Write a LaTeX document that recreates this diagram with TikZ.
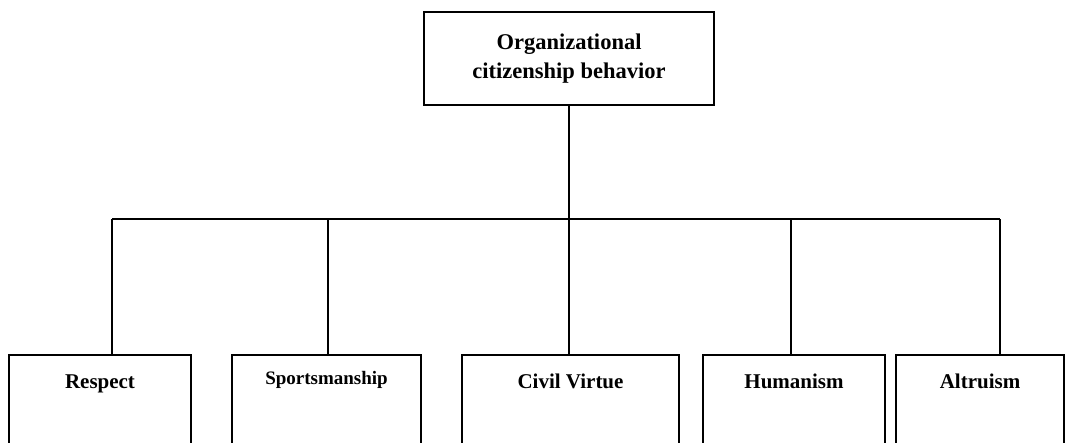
\documentclass[tikz,border=0pt]{standalone}
\usepackage{fontspec}
\setmainfont{Liberation Serif}
\begin{document}
\begin{tikzpicture}[x=1pt,y=-1pt,
  ln/.style={line width=1.7pt,black},
  topbox/.style={draw,ln,rectangle,minimum width=290pt,minimum height=93pt,inner sep=0pt,
    align=center,font=\fontsize{22.5}{29}\selectfont\bfseries},
  leaf/.style={draw,ln,rectangle,anchor=north,inner xsep=0pt,inner ysep=0pt,
    text height=34pt,text depth=70pt,font=\fontsize{21}{25}\selectfont\bfseries},
  leafsmall/.style={leaf,text height=30pt,text depth=74pt,font=\fontsize{19}{23}\selectfont\bfseries}]
\useasboundingbox (0,0) rectangle (1074,442);
\clip (0,0) rectangle (1074,442);
\fill[white] (0,0) rectangle (1074,442);
\node[topbox] (top) at (569,58.5) {Organizational\\citizenship behavior};
\node[leaf,minimum width=182pt] (r) at (100,354) {Respect};
\node[leafsmall,minimum width=189pt] (s) at (326.5,354) {Sportsmanship};
\node[leaf,minimum width=217pt] (c) at (570.5,354) {Civil Virtue};
\node[leaf,minimum width=182pt] (h) at (794,354) {Humanism};
\node[leaf,minimum width=168pt] (a) at (980,354) {Altruism};
\coordinate (b1) at (112,219);
\coordinate (b2) at (328,219);
\coordinate (b3) at (569,219);
\coordinate (b4) at (791,219);
\coordinate (b5) at (1000,219);
\draw[ln] (top.south) -- (top.south |- b3);
\draw[ln] (b1) -- (b5);
\draw[ln] (b1) -- (b1 |- r.north);
\draw[ln] (b2) -- (b2 |- s.north);
\draw[ln] (b3) -- (b3 |- c.north);
\draw[ln] (b4) -- (b4 |- h.north);
\draw[ln] (b5) -- (b5 |- a.north);
\end{tikzpicture}
\end{document}
